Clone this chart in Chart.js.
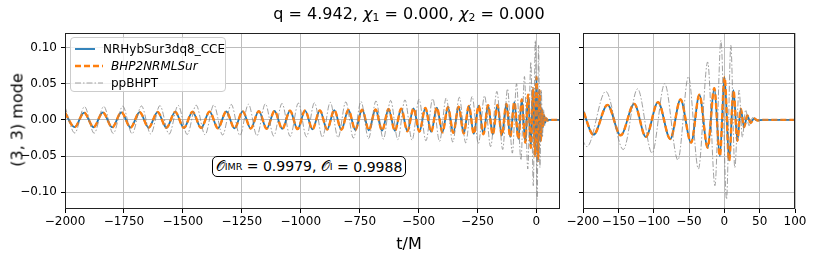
<!DOCTYPE html>
<html>
<head>
<meta charset="utf-8">
<script src="https://cdn.jsdelivr.net/npm/chart.js@4.4.1/dist/chart.umd.min.js"></script>
<style>
  body { margin: 0; width: 814px; height: 255px; background: #fff; position: relative; overflow: hidden; font-family: "DejaVu Sans", sans-serif; color: #000; }
  canvas { position: absolute; top: 0; }
  #left { left: 0; }
  #right { left: 550px; }
  .txt { position: absolute; white-space: nowrap; }
  #title { left: 409px; top: 13px; transform: translate(-50%, -50%); font-size: 16px; }
  #xlabel { left: 409px; top: 243px; transform: translate(-50%, -50%); font-size: 16px; }
  #ylabel { left: 17px; top: 120px; transform: translate(-50%, -50%) rotate(-90deg); font-size: 16px; }
  sub { font-size: 0.68em; vertical-align: -0.25em; line-height: 0; }
  #legend { position: absolute; left: 70px; top: 37px; width: 156px; height: 55px; box-sizing: border-box;
            border: 1px solid #cccccc; border-radius: 4px; background: rgba(255,255,255,0.8); padding-top: 2px; }
  .row { height: 17px; display: flex; align-items: center; font-size: 12px; }
  .row svg { margin-left: 4px; margin-right: 8px; }
  #overlap { position: absolute; left: 212px; top: 156px; width: 194px; height: 21px; box-sizing: border-box;
             border: 1px solid #000; border-radius: 5px; background: #fff; font-size: 14px;
             display: flex; align-items: center; justify-content: center; }
</style>
</head>
<body>
<canvas id="left" width="570" height="255"></canvas>
<canvas id="right" width="264" height="255"></canvas>
<div id="title" class="txt">q = 4.942, <i>χ</i><sub>1</sub> = 0.000, <i>χ</i><sub>2</sub> = 0.000</div>
<div id="xlabel" class="txt">t/M</div>
<div id="ylabel" class="txt">(3, 3) mode</div>
<div id="legend"></div>
<div id="overlap">𝒪<sub>IMR</sub>&nbsp;= 0.9979, 𝒪<sub>I</sub>&nbsp;= 0.9988</div>
<script>
// series names, as in the legend
const seriesNames = ['NRHybSur3dq8_CCE', 'BHP2NRMLSur', 'ppBHPT'];

// NR surrogate and ML surrogate lie on top of each other: one set of extrema
const surTime = [
  -2000, -1959.3, -1919.0, -1879.0, -1839.2, -1799.8, -1760.6, -1721.8, -1683.3, -1645.1,
  -1607.2, -1569.7, -1532.4, -1495.5, -1458.9, -1422.6, -1386.7, -1351.1, -1315.8, -1280.8,
  -1246.2, -1211.9, -1177.9, -1144.3, -1111.0, -1078.1, -1045.5, -1013.3, -981.4, -949.9,
  -918.7, -887.9, -857.5, -827.4, -797.7, -768.3, -739.4, -710.8, -682.6, -654.8,
  -627.3, -600.3, -573.7, -547.4, -521.6, -496.2, -471.2, -446.6, -422.4, -398.7,
  -375.4, -352.6, -330.1, -308.2, -286.6, -265.6, -245.0, -224.9, -205.3,
  -185.1, -165.4, -146.7, -127.5, -111.1, -93.8, -76.5, -62.0, -47.0, -35.3,
  -23.6, -14.2, -6.3, 0.3, 6.8, 12.9, 18.5, 23.2, 27.9, 32.6,
  37.2, 42.0, 47.0, 55.0, 100.0
];
const surStrain = [
  0.0100, -0.0101, 0.0101, -0.0102, 0.0103, -0.0104, 0.0105, -0.0106, 0.0106, -0.0107,
  0.0108, -0.0109, 0.0110, -0.0111, 0.0112, -0.0113, 0.0114, -0.0115, 0.0116, -0.0117,
  0.0118, -0.0120, 0.0121, -0.0122, 0.0123, -0.0125, 0.0126, -0.0127, 0.0129, -0.0130,
  0.0132, -0.0133, 0.0135, -0.0136, 0.0138, -0.0140, 0.0142, -0.0144, 0.0146, -0.0148,
  0.0150, -0.0152, 0.0154, -0.0157, 0.0159, -0.0162, 0.0165, -0.0167, 0.0170, -0.0173,
  0.0177, -0.0180, 0.0184, -0.0188, 0.0192, -0.0194, 0.0197, -0.0200, 0.0203,
  -0.0205, 0.0208, -0.0215, 0.0222, -0.0235, 0.0246, -0.0264, 0.0282, -0.0315, 0.0347,
  -0.0385, 0.0440, -0.0500, 0.0590, -0.0565, 0.0410, -0.0290, 0.0155, -0.0100, 0.0060,
  -0.0040, 0.0020, -0.0008, 0, 0
];

// ppBHPT: larger amplitude, slowly drifting phase
const ppTime = [
  -2000, -1958.5, -1917.3, -1876.4, -1835.7, -1795.3, -1755.2, -1715.3, -1675.7, -1636.4,
  -1597.3, -1558.5, -1519.9, -1481.7, -1443.7, -1406.0, -1368.6, -1331.4, -1294.6, -1258.0,
  -1221.7, -1185.7, -1149.9, -1114.5, -1079.4, -1044.5, -1009.9, -975.7, -941.7, -908.0,
  -874.6, -841.5, -808.8, -776.3, -744.1, -712.3, -680.7, -649.5, -618.6, -588.0,
  -557.7, -527.7, -498.1, -468.8, -439.8, -411.1, -382.8, -354.8, -327.2, -299.9,
  -272.9, -246.3, -220.1,
  -194.4, -167.8, -143.0, -122.8, -102.2, -84.4, -65.7, -50.8, -36.7, -23.6,
  -13.3, -4.8, 3.1, 9.2, 14.8, 20.9, 25.5, 30.2, 34.9, 39.6,
  45.0, 55.0, 100.0
];
const ppStrain = [
  0.0180, -0.0182, 0.0183, -0.0185, 0.0186, -0.0188, 0.0190, -0.0191, 0.0193, -0.0195,
  0.0197, -0.0198, 0.0200, -0.0202, 0.0204, -0.0206, 0.0208, -0.0210, 0.0213, -0.0215,
  0.0217, -0.0219, 0.0222, -0.0224, 0.0227, -0.0229, 0.0232, -0.0234, 0.0237, -0.0240,
  0.0243, -0.0246, 0.0249, -0.0252, 0.0255, -0.0259, 0.0262, -0.0266, 0.0269, -0.0273,
  0.0277, -0.0281, 0.0285, -0.0289, 0.0294, -0.0298, 0.0303, -0.0308, 0.0313, -0.0318,
  0.0324, -0.0329, 0.0335,
  -0.0370, 0.0394, -0.0410, 0.0430, -0.0460, 0.0500, -0.0556, 0.0600, -0.0680, 0.0800,
  -0.0910, 0.1100, -0.1100, 0.1030, -0.0660, 0.0410, -0.0240, 0.0140, -0.0080, 0.0030,
  -0.0010, 0, 0
];

// tick labels
const leftTicks = [-2000, -1750, -1500, -1250, -1000, -750, -500, -250, 0];
const rightTicks = [-200, -150, -100, -50, 0, 50, 100];
const yTicks = [-0.10, -0.05, 0.00, 0.05, 0.10];

Chart.defaults.font.family = '"DejaVu Sans", sans-serif';
Chart.defaults.color = '#000';

const pairs = (ts, hs) => ts.map((t, i) => ({ x: t, y: hs[i] }));
const minus = s => s.replace('-', '\u2212');

function makeDatasets() {
  const base = { pointRadius: 0, fill: false, cubicInterpolationMode: 'monotone' };
  return [
    { ...base, label: seriesNames[0], data: pairs(surTime, surStrain), borderColor: '#1f77b4', borderWidth: 1.8, order: 2 },
    { ...base, label: seriesNames[1], data: pairs(surTime, surStrain), borderColor: '#ff7f0e', borderWidth: 2.4, borderDash: [6, 3], order: 1, italic: true },
    { ...base, label: seriesNames[2], data: pairs(ppTime, ppStrain), borderColor: 'rgba(128,128,128,0.75)', borderWidth: 1, borderDash: [6, 2, 1.5, 2], order: 0 },
  ];
}

// black box round the axes, like matplotlib spines
const frame = {
  id: 'frame',
  afterDatasetsDraw(chart) {
    const { ctx, chartArea: a } = chart;
    ctx.save();
    ctx.strokeStyle = '#222';
    ctx.lineWidth = 1;
    ctx.strokeRect(a.left + 0.5, a.top + 0.5, a.width - 1, a.height - 1);
    ctx.restore();
  }
};

const gridOpts = { color: '#bdbdbd', lineWidth: 1, tickColor: '#000', tickLength: 4, drawTicks: true };

function panel(canvas, xmin, xmax, xTicks, yAxisWidth, showYLabels, pad) {
  return new Chart(canvas, {
    type: 'line',
    data: { datasets: makeDatasets() },
    options: {
      responsive: false,
      animation: false,
      devicePixelRatio: 1,
      layout: { padding: pad },
      plugins: { legend: { display: false }, tooltip: { enabled: false } },
      scales: {
        x: {
          type: 'linear', min: xmin, max: xmax,
          afterBuildTicks: s => { s.ticks = xTicks.map(v => ({ value: v })); },
          afterFit: s => { s.height = 46; },
          grid: gridOpts,
          border: { display: false },
          ticks: { font: { size: 12 }, padding: 2, maxRotation: 0, autoSkip: false, callback: v => minus(String(v)) }
        },
        y: {
          type: 'linear', min: -0.1233, max: 0.1202,
          afterBuildTicks: s => { s.ticks = yTicks.map(v => ({ value: v })); },
          afterFit: s => { s.width = yAxisWidth; },
          grid: gridOpts,
          border: { display: false },
          ticks: { display: showYLabels, font: { size: 12 }, padding: 4, callback: v => minus(v.toFixed(2)) }
        }
      }
    },
    plugins: [frame]
  });
}

const leftChart = panel(document.getElementById('left'), -2000, 100, leftTicks, 65, true, { top: 33, right: 10, left: 0, bottom: 0 });
panel(document.getElementById('right'), -200, 100, rightTicks, 33, false, { top: 33, right: 19, left: 0, bottom: 0 });

// legend built from the datasets of the left panel
const legend = document.getElementById('legend');
leftChart.data.datasets.forEach(d => {
  const row = document.createElement('div');
  row.className = 'row';
  const dash = d.borderDash ? d.borderDash.join(',') : 'none';
  row.innerHTML =
    `<svg width="28" height="10"><line x1="0" y1="5" x2="28" y2="5" stroke="${d.borderColor}" stroke-width="${d.borderWidth}" stroke-dasharray="${dash}"/></svg>` +
    `<span style="font-style:${d.italic ? 'italic' : 'normal'}">${d.label}</span>`;
  legend.appendChild(row);
});
</script>
</body>
</html>
